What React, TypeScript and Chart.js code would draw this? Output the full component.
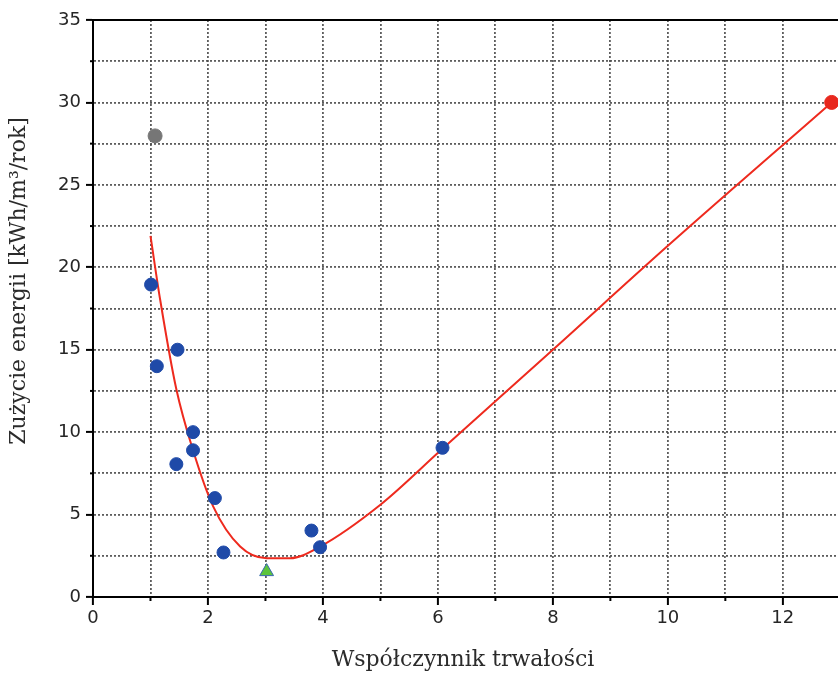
import React, { useEffect, useRef } from 'react';
import { Chart, registerables } from 'chart.js';

Chart.register(...registerables);

// ---- data ----
const blueX = [1.01, 1.11, 1.47, 1.45, 1.74, 1.74, 2.12, 2.27, 3.8, 3.95, 6.08];
const blueY = [18.95, 14.0, 15.0, 8.06, 10.0, 8.9, 6.0, 2.7, 4.03, 3.02, 9.05];
const grayX = [1.08];
const grayY = [27.97];
const greenX = [3.02];
const greenY = [1.54];
const redX = [12.85];
const redY = [30];
const curveX = [1.0, 1.17, 1.45, 1.74, 2.09, 2.56, 3.02, 3.43, 3.95, 5.0, 6.05, 8.0, 10.0, 12.85];
const curveY = [21.9, 18.0, 12.6, 8.9, 5.5, 3.06, 2.35, 2.35, 3.06, 5.6, 8.9, 15.0, 21.3, 30];

const xTickValues = [0, 1, 2, 3, 4, 5, 6, 7, 8, 9, 10, 11, 12];
const xTickLabels = ['0', '', '2', '', '4', '', '6', '', '8', '', '10', '', '12'];
const yTickValues = [0, 2.5, 5, 7.5, 10, 12.5, 15, 17.5, 20, 22.5, 25, 27.5, 30, 32.5, 35];
const yTickLabels = ['0', '', '5', '', '10', '', '15', '', '20', '', '25', '', '30', '', '35'];
const xTitle = 'Współczynnik trwałości';
const yTitle = 'Zużycie energii [kWh/m³/rok]';
const xMin = 0;
const xMax = 12.96;
const yMin = 0;
const yMax = 35;

const toPts = (xs: number[], ys: number[]) => xs.map((x, i) => ({ x, y: ys[i] }));

const decorPlugin = {
  id: 'decor',
  afterDraw(chart: any) {
    const { ctx, chartArea: a, scales } = chart;
    const xs = scales.x;
    const ys = scales.y;
    ctx.save();
    // top frame line
    ctx.strokeStyle = '#000';
    ctx.lineWidth = 2;
    ctx.beginPath();
    ctx.moveTo(a.left - 1, a.top);
    ctx.lineTo(a.right, a.top);
    ctx.stroke();
    // minor ticks
    ctx.lineWidth = 2;
    xTickValues.forEach((v, i) => {
      if (xTickLabels[i] !== '') return;
      const px = xs.getPixelForValue(v);
      ctx.beginPath();
      ctx.moveTo(px, a.bottom);
      ctx.lineTo(px, a.bottom + 4);
      ctx.stroke();
    });
    yTickValues.forEach((v, i) => {
      if (yTickLabels[i] !== '') return;
      const py = ys.getPixelForValue(v);
      ctx.beginPath();
      ctx.moveTo(a.left, py);
      ctx.lineTo(a.left - 3, py);
      ctx.stroke();
    });
    // axis titles
    ctx.fillStyle = '#2b2b2b';
    ctx.font = '22px "DejaVu Serif"';
    ctx.textAlign = 'center';
    ctx.textBaseline = 'middle';
    ctx.fillText(xTitle, 463, 660);
    ctx.translate(19, 281);
    ctx.rotate(-Math.PI / 2);
    ctx.fillText(yTitle, 0, 0);
    ctx.restore();
  },
};

export default function App() {
  const ref = useRef<HTMLCanvasElement | null>(null);

  useEffect(() => {
    if (!ref.current) return;
    const gridColor = 'rgba(75,75,75,0.9)';
    const tickFont = { family: '"DejaVu Sans", Arial, sans-serif', size: 18 };
    const chart = new Chart(ref.current, {
      type: 'scatter',
      data: {
        datasets: [
          {
            type: 'line',
            label: 'fit',
            data: toPts(curveX, curveY),
            borderColor: '#ee2a1e',
            borderWidth: 2,
            pointRadius: 0,
            cubicInterpolationMode: 'monotone',
            fill: false,
            order: 5,
          } as any,
          {
            label: 'blue',
            data: toPts(blueX, blueY),
            backgroundColor: '#1f4aa8',
            borderColor: '#1f4aa8',
            pointRadius: 6.5,
            pointStyle: 'circle',
            order: 1,
          },
          {
            label: 'gray',
            data: toPts(grayX, grayY),
            backgroundColor: '#767676',
            borderColor: '#767676',
            pointRadius: 7,
            order: 1,
          },
          {
            label: 'green',
            data: toPts(greenX, greenY),
            backgroundColor: '#5cc43c',
            borderColor: '#3a68b0',
            borderWidth: 1,
            pointRadius: 8,
            pointStyle: 'triangle',
            order: 0,
          },
          {
            label: 'red',
            data: toPts(redX, redY),
            backgroundColor: '#e8281e',
            borderColor: '#e8281e',
            pointRadius: 7,
            order: 0,
          },
        ],
      },
      options: {
        animation: false,
        responsive: false,
        layout: { autoPadding: false, padding: { top: 20, left: 0, right: 0, bottom: 0 } },
        plugins: {
          legend: { display: false },
          tooltip: { enabled: false },
        },
        scales: {
          x: {
            type: 'linear',
            min: xMin,
            max: xMax,
            afterBuildTicks: (s: any) => {
              s.ticks = xTickValues.map((v) => ({ value: v }));
            },
            afterFit: (s: any) => {
              s.height = 79;
              s.paddingLeft = 0;
              s.paddingRight = 0;
            },
            ticks: {
              autoSkip: false,
              maxRotation: 0,
              padding: 3,
              color: '#262626',
              font: tickFont,
              callback: (v: any) => {
                const i = xTickValues.indexOf(Number(v));
                return i >= 0 ? xTickLabels[i] : '';
              },
            },
            grid: {
              color: gridColor,
              lineWidth: 1.8,
              drawTicks: true,
              tickLength: 8,
              tickWidth: 2,
              tickColor: (c: any) => {
                const i = xTickValues.indexOf(c.tick?.value);
                return i >= 0 && xTickLabels[i] !== '' ? '#000' : 'rgba(0,0,0,0)';
              },
            },
            border: { display: true, color: '#000', width: 2, dash: [2, 2] },
          },
          y: {
            type: 'linear',
            min: yMin,
            max: yMax,
            afterBuildTicks: (s: any) => {
              s.ticks = yTickValues.map((v) => ({ value: v }));
            },
            afterFit: (s: any) => {
              s.width = 93;
              s.paddingTop = 0;
              s.paddingBottom = 0;
            },
            ticks: {
              autoSkip: false,
              padding: 5,
              color: '#262626',
              font: tickFont,
              callback: (v: any) => {
                const i = yTickValues.indexOf(Number(v));
                return i >= 0 ? yTickLabels[i] : '';
              },
            },
            grid: {
              color: gridColor,
              lineWidth: 1.8,
              drawTicks: true,
              tickLength: 7,
              tickWidth: 2,
              tickColor: (c: any) => {
                const i = yTickValues.indexOf(c.tick?.value);
                return i >= 0 && yTickLabels[i] !== '' ? '#000' : 'rgba(0,0,0,0)';
              },
            },
            border: { display: true, color: '#000', width: 2, dash: [2, 2] },
          },
        },
      },
      plugins: [decorPlugin],
    });
    return () => chart.destroy();
  }, []);

  return (
    <div style={{ position: 'absolute', left: 0, top: 0, width: 838, height: 676, background: '#fff' }}>
      <canvas ref={ref} width={838} height={676} style={{ display: 'block' }} />
    </div>
  );
}
